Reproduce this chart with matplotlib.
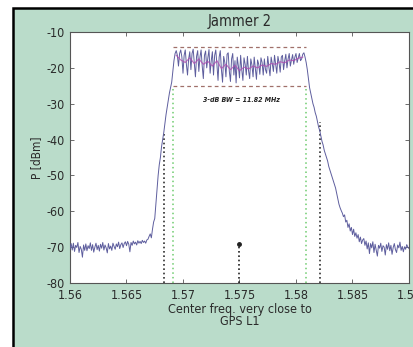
import numpy as np
import matplotlib
matplotlib.use("Agg")
import matplotlib.pyplot as plt
from matplotlib.patches import Rectangle

plt.rcParams['font.family'] = ['DejaVu Sans']
plt.rcParams['font.stretch'] = 'condensed'
plt.rcParams['axes.unicode_minus'] = False

# spectrum trace, one row per MHz (0.1 MHz steps from 1.5600 GHz)
freq_start_ghz = 1.5600
freq_step_ghz = 0.0001
power_dbm = [
  -70.5, -69.0, -70.8, -68.9, -71.2, -69.5, -70.1, -68.7, -71.5, -69.8,
  -70.6, -72.8, -69.4, -70.9, -69.1, -71.0, -69.6, -70.4, -68.8, -70.9,
  -69.3, -71.4, -70.0, -68.9, -70.7, -69.5, -71.1, -69.2, -70.3, -68.7,
  -70.8, -69.4, -70.2, -71.6, -69.0, -70.5, -69.7, -70.9, -68.9, -69.8,
  -70.6, -69.1, -69.9, -68.6, -70.4, -69.3, -68.8, -70.1, -69.0, -68.5,
  -69.6, -68.4, -69.2, -71.3, -68.7, -69.5, -68.3, -69.1, -68.6, -69.4,
  -68.2, -68.9, -68.4, -69.0, -68.1, -68.7, -68.3, -68.9, -68.0, -67.8,
  -67.0, -66.3, -67.4, -65.0, -63.0, -62.0, -58.0, -54.0, -50.0, -47.0,
  -45.0, -42.0, -40.0, -38.0, -35.5, -33.0, -31.0, -29.0, -27.0, -25.5,
  -24.0, -21.0, -18.0, -16.0, -15.2, -16.5, -19.5, -16.0, -15.0, -17.0,
  -21.5, -16.5, -15.0, -19.0, -22.0, -17.5, -15.5, -20.5, -16.0, -14.8,
  -18.5, -22.5, -16.8, -15.2, -21.0, -17.0, -15.0, -19.5, -23.0, -16.5,
  -15.3, -20.0, -17.2, -14.9, -21.5, -18.0, -15.5, -22.0, -16.5, -15.0,
  -19.0, -23.5, -17.0, -15.2, -20.5, -24.0, -16.8, -18.5, -22.5, -16.2,
  -15.8, -21.0, -23.8, -17.5, -16.0, -22.0, -18.0, -24.2, -17.0, -19.5,
  -22.8, -16.5, -20.5, -23.5, -17.2, -19.0, -22.0, -16.8, -20.8, -23.0,
  -17.5, -19.2, -22.5, -17.0, -20.0, -23.2, -17.8, -19.0, -21.8, -17.2,
  -18.5, -22.0, -17.5, -20.5, -21.5, -16.8, -19.8, -22.2, -17.0, -18.8,
  -21.0, -16.5, -19.0, -21.5, -16.8, -18.5, -21.2, -17.0, -16.5, -20.5,
  -18.0, -16.2, -20.0, -17.5, -16.0, -19.5, -17.8, -16.3, -19.0, -17.0,
  -16.0, -18.5, -17.2, -16.0, -18.0, -17.5, -16.2, -15.8, -17.0, -18.5,
  -20.5, -23.0, -25.5, -27.0, -28.5, -30.0, -31.0, -32.5, -33.5, -35.0,
  -36.5, -37.5, -39.0, -40.5, -41.5, -43.0, -44.0, -45.0, -46.0, -47.5,
  -48.5, -49.5, -50.5, -51.5, -52.5, -53.5, -55.0, -56.5, -58.0, -59.0,
  -59.8, -60.5, -61.5, -61.0, -63.0, -62.5, -64.5, -63.5, -65.5, -64.5,
  -66.5, -65.0, -67.0, -66.0, -67.5, -66.5, -68.5, -67.2, -69.0, -68.0,
  -67.6, -69.5, -68.3, -70.5, -68.8, -71.8, -69.0, -70.2, -68.5, -71.5,
  -69.2, -70.8, -72.5, -69.5, -70.3, -68.9, -71.2, -69.6, -70.0, -72.2,
  -69.3, -70.6, -68.8, -71.0, -69.5, -72.0, -70.1, -69.0, -70.7, -71.5,
  -69.4, -70.2, -68.6, -70.9, -69.8, -71.3, -69.9, -70.6, -69.3, -70.0,
  -70.4,
]

# averaged trace over the passband (0.4 MHz steps)
avg_start_ghz = 1.5694
avg_step_ghz = 0.0004
avg_power_dbm = [
  -16.5, -17.8, -18.5, -17.2, -18.8, -17.5, -19.0, -18.2, -19.5, -18.0,
  -20.2, -19.0, -20.5, -19.3, -20.8, -19.8, -20.3, -19.5, -20.0, -19.2,
  -19.6, -18.8, -19.0, -18.3, -18.6, -17.8, -18.0, -17.3, -17.0,
]

# markers
bw_edges_ghz = [1.5691, 1.5809]
bw_levels_dbm = [-14.3, -25.0]
outer_edges_ghz = [1.5683, 1.5821]
outer_tops_dbm = [-38.0, -35.0]
gps_l1_ghz = 1.575
gps_l1_top_dbm = -69.0
bw_label = "3-dB BW = 11.82 MHz"

x_ticks = [1.56, 1.565, 1.57, 1.575, 1.58, 1.585, 1.59]
x_tick_labels = ["1.56", "1.565", "1.57", "1.575", "1.58", "1.585", "1.59"]
y_ticks = [-80, -70, -60, -50, -40, -30, -20, -10]

freq = freq_start_ghz + freq_step_ghz * np.arange(len(power_dbm))
avg_freq = avg_start_ghz + avg_step_ghz * np.arange(len(avg_power_dbm))

fig = plt.figure(figsize=(4.14, 3.47), dpi=100)
fig.patch.set_facecolor('white')
# green panel with black edge on the left and top
fig.add_artist(Rectangle((13/414, -0.1), 1.2, 1 - 8/347 + 0.1,
                         transform=fig.transFigure, facecolor='#badcca',
                         edgecolor='black', linewidth=1.8, zorder=-1))

ax = fig.add_axes([70/414, 1 - 283/347, 339/414, 251/347])
ax.set_facecolor('white')

ax.plot(freq, power_dbm, color='#5e5e9e', linewidth=0.7, zorder=3)
ax.plot(avg_freq, avg_power_dbm, color='#b04ab0', linewidth=0.8, alpha=0.8, zorder=4)

for lvl in bw_levels_dbm:
  ax.plot(bw_edges_ghz, [lvl, lvl], linestyle=(0, (3, 2.5)), color='#a0706a', linewidth=0.9, zorder=2)
for f in bw_edges_ghz:
  ax.plot([f, f], [-80, bw_levels_dbm[1]], linestyle=(0, (1, 2)), color='#6ecb6e', linewidth=1.1, zorder=2)
for f, top in zip(outer_edges_ghz, outer_tops_dbm):
  ax.plot([f, f], [-80, top], linestyle=(0, (1, 1.6)), color='#303030', linewidth=1.2, zorder=2)
ax.plot([gps_l1_ghz, gps_l1_ghz], [-80, gps_l1_top_dbm], linestyle=(0, (1, 1.6)),
        color='#202020', linewidth=1.2, zorder=2)
ax.plot([gps_l1_ghz], [gps_l1_top_dbm], marker='o', markersize=2.5, color='#202020', zorder=5)

ax.text(1.5752, -28.9, bw_label, ha='center', va='center', fontsize=5,
        fontweight='bold', fontstyle='italic', color='#222222')

ax.set_xlim(1.56, 1.59)
ax.set_ylim(-80, -10)
ax.set_xticks(x_ticks)
ax.set_xticklabels(x_tick_labels)
ax.set_yticks(y_ticks)
ax.tick_params(direction='in', length=3, width=0.6, top=True, right=True,
               labelsize=9, colors='#555555', labelcolor='#2a2a2a', pad=4)
for s in ax.spines.values():
  s.set_color('#555555')
  s.set_linewidth(0.8)

ax.set_title("Jammer 2", fontsize=10.5, color='#2a2a2a', pad=4)
ax.set_xlabel("Center freq. very close to\nGPS L1", fontsize=9, color='#2a2a2a',
              labelpad=1, linespacing=0.95)
ax.set_ylabel("P [dBm]", fontsize=8.5, color='#2a2a2a', labelpad=2)

fig.savefig("out.png", dpi=100)
